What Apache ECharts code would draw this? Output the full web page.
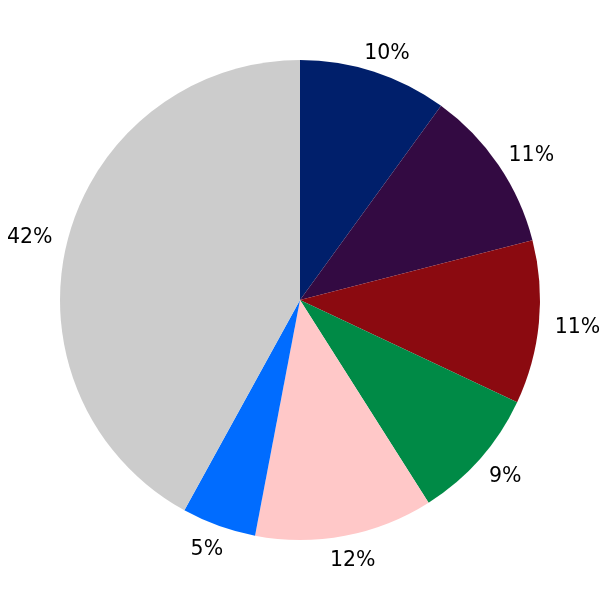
<!DOCTYPE html>
<html>
<head>
<meta charset="utf-8">
<script src="https://cdn.jsdelivr.net/npm/echarts@6/dist/echarts.min.js"></script>
<style>html,body{margin:0;padding:0;background:#fff}#c{width:600px;height:600px}</style>
</head>
<body>
<div id="c"></div>
<script>
const values = [10, 11, 11, 9, 12, 5, 42];
const names = ['A', 'B', 'C', 'D', 'E', 'F', 'G'];
const colors = ['#001f6b', '#330a42', '#8b0a10', '#008a46', '#ffc8c8', '#006cff', '#cccccc'];

const chart = echarts.init(document.getElementById('c'), null, {renderer: 'canvas'});
const W = chart.getWidth(), H = chart.getHeight();
const cx = W / 2, cy = H / 2;
const R = Math.min(W, H) * 0.4;

chart.setOption({
  animation: false,
  backgroundColor: '#fff',
  series: [{
    type: 'pie',
    center: ['50%', '50%'],
    radius: ['0%', '80%'],
    startAngle: 90,
    clockwise: true,
    avoidLabelOverlap: false,
    silent: true,
    itemStyle: {borderWidth: 0},
    emphasis: {disabled: true},
    label: {
      show: true,
      position: 'inside',
      color: '#000',
      fontFamily: 'DejaVu Sans',
      fontSize: 20.5,
      formatter: p => Math.round(p.percent) + '%'
    },
    labelLine: {show: false},
    labelLayout: function (p) {
      const r = p.labelRect;
      const lx = r.x + r.width / 2, ly = r.y + r.height / 2;
      let ux = lx - cx, uy = ly - cy;
      const len = Math.hypot(ux, uy) || 1;
      ux /= len; uy /= len;
      const A = R + 19;
      return {
        x: cx + ux * (A + r.width / 2 - 3 * ux * ux),
        y: cy + uy * (A + 3) + 3,
        align: 'center',
        verticalAlign: 'middle'
      };
    },
    data: values.map((v, i) => ({value: v, name: names[i], itemStyle: {color: colors[i]}}))
  }]
});
</script>
</body>
</html>
